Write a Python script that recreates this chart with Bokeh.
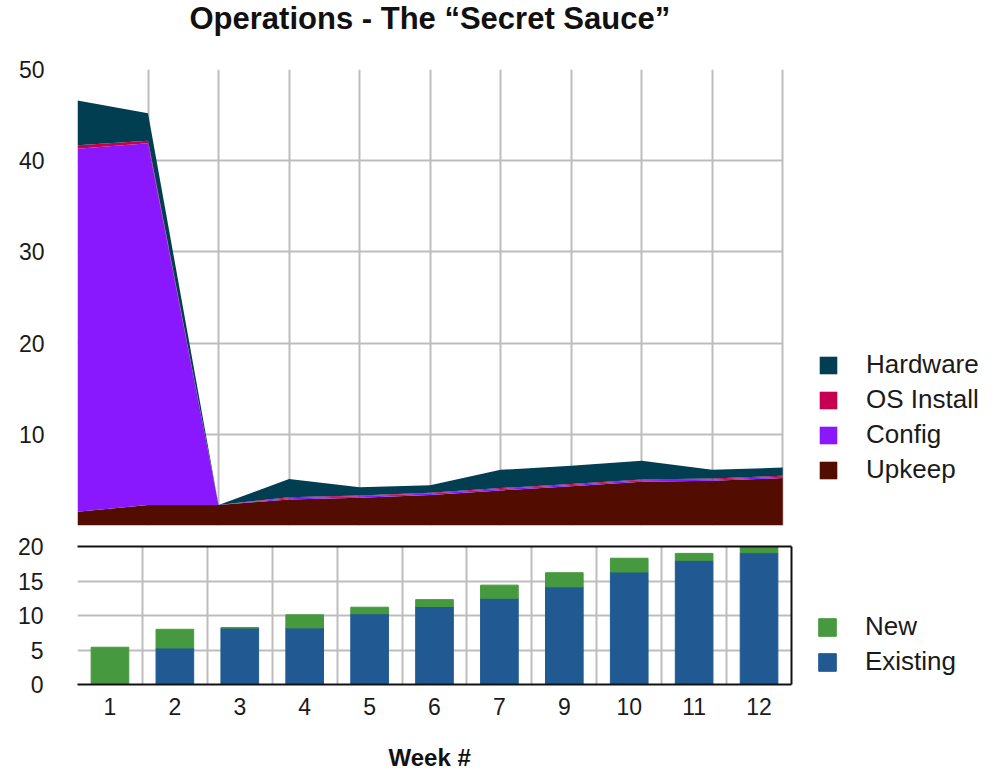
from bokeh.plotting import figure
from bokeh.models import (ColumnDataSource, FixedTicker, Legend, LegendItem, Range1d, Grid, Title)
from bokeh.layouts import column
from bokeh.embed import file_html
from bokeh.resources import INLINE

# ---- data ----
weeks = ["1", "2", "3", "4", "5", "6", "7", "9", "10", "11", "12"]
upkeep = [1.5, 2.25, 2.25, 2.85, 3.05, 3.35, 3.85, 4.3, 4.8, 4.9, 5.2]
config = [39.8, 39.65, 0.0, 0.15, 0.15, 0.15, 0.15, 0.15, 0.15, 0.15, 0.15]
os_install = [0.4, 0.3, 0.0, 0.1, 0.1, 0.1, 0.1, 0.1, 0.1, 0.1, 0.1]
hardware = [4.9, 3.0, 0.0, 2.0, 0.9, 0.8, 2.0, 2.0, 2.05, 0.95, 0.9]
existing = [0.0, 5.3, 8.2, 8.2, 10.25, 11.3, 12.5, 14.15, 16.3, 18.0, 19.1]
new = [5.4, 2.7, 0.0, 1.9, 0.95, 1.0, 1.9, 2.05, 2.0, 1.0, 0.9]

top_series = ["Upkeep", "Config", "OS Install", "Hardware"]
top_colors = ["#520c00", "#8a18ff", "#c6004e", "#023e51"]
bot_series = ["Existing", "New"]
bot_colors = ["#215a92", "#46993f"]

FONT = "Liberation Sans"
GRID = "#bdbdbd"
FIG_W = 992

xs = list(range(len(weeks)))
n = len(weeks)


def text_strip(height, left):
    """A blank figure that only carries a title in one of its side panels."""
    f = figure(width=FIG_W, height=height, output_backend="svg", toolbar_location=None,
               min_border_left=left, min_border_right=0, min_border_top=0,
               min_border_bottom=0)
    f.xaxis.visible = False
    f.yaxis.visible = False
    f.xgrid.visible = False
    f.ygrid.visible = False
    f.outline_line_color = None
    return f


# ---- title strip ----
t = text_strip(46, 76)
t.title.text = "Operations - The \u201cSecret Sauce\u201d"
t.title.align = "left"
t.title.offset = 112
t.title.vertical_align = "top"
t.title.standoff = 0
t.title.text_font = FONT
t.title.text_font_size = "31px"
t.title.text_font_style = "bold"
t.title.text_color = "#111111"

# ---- top: stacked area (frame extends to the right to host the legend) ----
TOP_LEFT, TOP_DATA_W = 76, 706
top_frame_w = FIG_W - TOP_LEFT
top_xend = (n - 1) * top_frame_w / TOP_DATA_W

src_top = ColumnDataSource(dict(x=xs, Upkeep=upkeep, Config=config,
                                **{"OS Install": os_install}, Hardware=hardware))

p = figure(width=FIG_W, height=484, x_range=Range1d(0, top_xend),
           y_range=Range1d(0, 50), output_backend="svg", toolbar_location=None,
           min_border_left=TOP_LEFT, min_border_right=0, min_border_top=23,
           min_border_bottom=5)
rs = p.varea_stack(top_series, x="x", color=top_colors, source=src_top)

p.xaxis.visible = False
p.yaxis.ticker = FixedTicker(ticks=[10, 20, 30, 40, 50])
p.yaxis.axis_line_color = None
p.yaxis.major_tick_line_color = None
p.yaxis.minor_tick_line_color = None
p.yaxis.major_tick_out = 0
p.yaxis.major_label_standoff = 33
p.yaxis.major_label_text_font = FONT
p.yaxis.major_label_text_font_size = "23px"
p.yaxis.major_label_text_color = "#1a1a1a"

p.xgrid.ticker = FixedTicker(ticks=xs)
p.xgrid.cross_bounds = (0, 50)
p.ygrid.ticker = FixedTicker(ticks=[0, 10, 20, 30, 40, 50])
p.ygrid.cross_bounds = (0, n - 1)
for g in (p.xgrid, p.ygrid):
    g.grid_line_color = GRID
    g.grid_line_width = 2
p.outline_line_color = None

leg_top = Legend(items=[LegendItem(label=top_series[i], renderers=[rs[i]]) for i in (3, 2, 1, 0)],
                 location=(740, 40))
p.add_layout(leg_top)

# ---- bottom: stacked bars ----
BOT_LEFT, BOT_DATA_W = 77, 714
bot_frame_w = FIG_W - BOT_LEFT
bot_xend = -0.5 + n * bot_frame_w / BOT_DATA_W

src_bot = ColumnDataSource(dict(x=xs, Existing=existing, New=new))
q = figure(width=FIG_W, height=194, x_range=Range1d(-0.5, bot_xend),
           y_range=Range1d(0, 20), output_backend="svg", toolbar_location=None,
           min_border_left=BOT_LEFT, min_border_right=0, min_border_top=16,
           min_border_bottom=40)
rb = q.vbar_stack(bot_series, x="x", width=0.58, color=bot_colors, source=src_bot)

q.xaxis.ticker = FixedTicker(ticks=xs)
q.xaxis.major_label_overrides = {i: w for i, w in zip(xs, weeks)}
q.xaxis.major_label_standoff = 13

q.yaxis.ticker = FixedTicker(ticks=[0, 5, 10, 15, 20])
q.yaxis.major_label_standoff = 34

for ax in (q.xaxis, q.yaxis):
    ax.axis_line_color = None
    ax.major_tick_line_color = None
    ax.minor_tick_line_color = None
    ax.major_tick_out = 0
    ax.major_label_text_font = FONT
    ax.major_label_text_font_size = "23px"
    ax.major_label_text_color = "#1a1a1a"

q.xgrid.ticker = FixedTicker(ticks=[i + 0.5 for i in xs[:-1]])
q.xgrid.cross_bounds = (0, 20)
q.ygrid.ticker = FixedTicker(ticks=[5, 10, 15])
q.ygrid.cross_bounds = (-0.5, n - 0.5)
for g in (q.xgrid, q.ygrid):
    g.grid_line_color = GRID
    g.grid_line_width = 2
q.outline_line_color = None
q.add_layout(Grid(dimension=0, ticker=FixedTicker(ticks=[-0.5, n - 0.5]), cross_bounds=(0, 20),
                  grid_line_color="#111111", grid_line_width=2, level="overlay"))
q.add_layout(Grid(dimension=1, ticker=FixedTicker(ticks=[0.03, 19.97]), cross_bounds=(-0.5, n - 0.5),
                  grid_line_color="#111111", grid_line_width=2, level="overlay"))

leg_bot = Legend(items=[LegendItem(label=bot_series[i], renderers=[rb[i]]) for i in (1, 0)],
                 location=(739, 7))
q.add_layout(leg_bot)

for lg in (leg_top, leg_bot):
    lg.border_line_color = None
    lg.background_fill_alpha = 0
    lg.padding = 0
    lg.margin = 0
    lg.glyph_width = 22
    lg.glyph_height = 22
    lg.label_standoff = 27
    lg.spacing = 4
    lg.label_text_font = FONT
    lg.label_text_font_size = "26px"
    lg.label_text_color = "#1a1a1a"

# ---- x-axis title strip ----
r = text_strip(46, 77)
r.title = None
r.add_layout(Title(text="Week #", align="left", offset=390 - 79, standoff=0,
                   vertical_align="bottom", text_font=FONT, text_font_size="24px",
                   text_font_style="bold", text_color="#111111"), "below")

layout = column(t, p, q, r, spacing=0)
open("out.html", "w").write(file_html(layout, INLINE))
